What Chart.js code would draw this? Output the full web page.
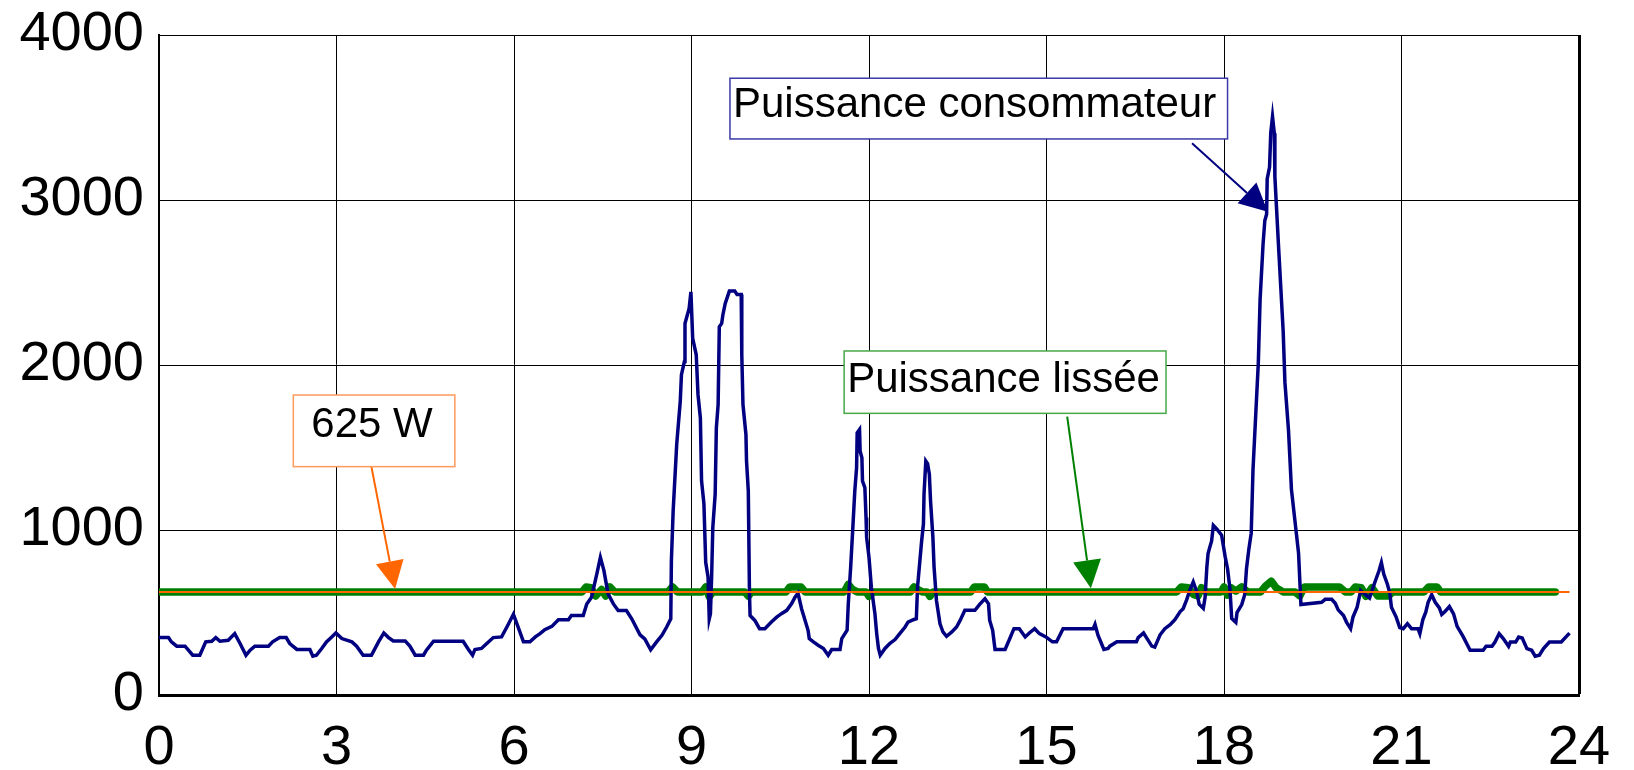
<!DOCTYPE html>
<html>
<head>
<meta charset="utf-8">
<script src="https://cdn.jsdelivr.net/npm/chart.js@4"></script>
<style>
  html, body { margin: 0; padding: 0; background: #ffffff; }
  #wrap { width: 1634px; height: 770px; position: relative; }
</style>
</head>
<body>
<div id="wrap"><canvas id="powerChart"></canvas></div>
<script>
// ===== DATA =====
// heures (axe x) et puissance consommateur (W)
const hours = [
  0.00, 0.16, 0.21, 0.30, 0.44, 0.57, 0.69, 0.79, 0.89, 0.96, 1.03, 1.17, 1.28, 1.37, 1.47, 1.54, 1.62, 1.85, 1.92, 2.04,
  2.15, 2.21, 2.33, 2.55, 2.60, 2.66, 2.75, 2.83, 2.92, 2.99, 3.09, 3.26, 3.34, 3.45, 3.59, 3.71, 3.80, 3.88, 3.96, 4.16,
  4.24, 4.33, 4.47, 4.52, 4.64, 5.14, 5.23, 5.30, 5.34, 5.45, 5.54, 5.65, 5.79, 5.88, 5.99, 6.07, 6.16, 6.27, 6.36, 6.44,
  6.52, 6.64, 6.75, 6.92, 6.97, 7.17, 7.23, 7.31, 7.40, 7.46, 7.52, 7.59, 7.68, 7.76, 7.90, 7.99, 8.13, 8.21, 8.31, 8.41,
  8.50, 8.58, 8.65, 8.66, 8.69, 8.75, 8.81, 8.83, 8.88, 8.89, 8.96, 8.99, 9.02, 9.08, 9.11, 9.15, 9.17, 9.21, 9.24, 9.28,
  9.30, 9.32, 9.34, 9.36, 9.40, 9.42, 9.45, 9.47, 9.51, 9.53, 9.57, 9.64, 9.73, 9.77, 9.84, 9.85, 9.87, 9.92, 9.93, 9.96,
  9.98, 9.99, 10.07, 10.15, 10.24, 10.35, 10.44, 10.52, 10.61, 10.69, 10.75, 10.80, 10.86, 10.92, 10.97, 10.99, 11.06, 11.14, 11.23, 11.31,
  11.37, 11.51, 11.54, 11.63, 11.65, 11.69, 11.73, 11.76, 11.79, 11.80, 11.84, 11.85, 11.88, 11.89, 11.93, 11.95, 11.96, 12.00, 12.04, 12.10,
  12.13, 12.16, 12.19, 12.27, 12.35, 12.44, 12.52, 12.61, 12.66, 12.75, 12.80, 12.82, 12.85, 12.89, 12.92, 12.93, 12.96, 12.99, 13.02, 13.04,
  13.08, 13.10, 13.14, 13.20, 13.25, 13.31, 13.40, 13.48, 13.54, 13.62, 13.79, 13.87, 13.96, 14.02, 14.04, 14.09, 14.13, 14.30, 14.38, 14.45,
  14.54, 14.64, 14.71, 14.80, 14.88, 14.99, 15.10, 15.17, 15.28, 15.79, 15.82, 15.87, 15.97, 16.04, 16.07, 16.19, 16.52, 16.55, 16.64, 16.70,
  16.78, 16.83, 16.92, 17.00, 17.09, 17.17, 17.26, 17.31, 17.37, 17.42, 17.48, 17.54, 17.58, 17.65, 17.68, 17.71, 17.73, 17.76, 17.79, 17.82,
  17.88, 17.96, 18.02, 18.06, 18.10, 18.13, 18.20, 18.22, 18.30, 18.35, 18.38, 18.42, 18.46, 18.49, 18.54, 18.58, 18.61, 18.66, 18.69, 18.72,
  18.73, 18.77, 18.79, 18.82, 18.85, 18.86, 18.92, 19.00, 19.03, 19.09, 19.14, 19.20, 19.26, 19.30, 19.65, 19.71, 19.82, 19.88, 19.93, 20.02,
  20.07, 20.14, 20.18, 20.25, 20.31, 20.35, 20.46, 20.55, 20.62, 20.66, 20.70, 20.76, 20.80, 20.83, 20.91, 20.97, 21.03, 21.10, 21.17, 21.28,
  21.31, 21.36, 21.41, 21.45, 21.51, 21.57, 21.64, 21.68, 21.74, 21.81, 21.88, 21.94, 22.04, 22.16, 22.38, 22.43, 22.53, 22.58, 22.65, 22.72,
  22.81, 22.84, 22.93, 22.98, 23.04, 23.12, 23.20, 23.26, 23.33, 23.40, 23.50, 23.70, 23.84
];
const watts = [
  348, 348, 322, 296, 296, 241, 241, 322, 326, 348, 326, 332, 372, 312, 241, 272, 296, 296, 322, 348,
  348, 312, 276, 276, 235, 241, 282, 322, 352, 376, 342, 322, 296, 241, 241, 322, 376, 348, 328, 328,
  296, 241, 241, 272, 326, 326, 276, 241, 276, 282, 312, 348, 352, 412, 489, 412, 322, 322, 352, 372,
  396, 416, 456, 456, 482, 482, 552, 593, 734, 834, 754, 613, 552, 512, 512, 462, 365, 340, 274, 322,
  362, 412, 462, 814, 1116, 1519, 1780, 1941, 2021, 2252, 2343, 2443, 2162, 2062, 1820, 1679, 1297, 1158, 804, 714,
  462, 493, 714, 1015, 1217, 1619, 1760, 2232, 2252, 2303, 2373, 2448, 2448, 2427, 2427, 2062, 1760, 1579, 1418, 1237,
  614, 482, 452, 402, 402, 442, 472, 493, 513, 553, 593, 617, 523, 452, 392, 342, 322, 302, 282, 241,
  276, 276, 342, 392, 553, 774, 1036, 1237, 1377, 1589, 1609, 1478, 1438, 1297, 1257, 1076, 955, 834, 653, 493,
  372, 282, 241, 282, 312, 336, 372, 412, 442, 456, 462, 653, 774, 935, 1036, 1217, 1418, 1402, 1338, 1177,
  955, 774, 573, 432, 382, 356, 382, 412, 452, 513, 513, 549, 583, 553, 452, 392, 276, 276, 342, 402,
  402, 352, 376, 402, 372, 352, 322, 322, 402, 402, 428, 362, 276, 282, 296, 322, 322, 348, 376, 342,
  296, 290, 365, 402, 426, 457, 506, 523, 578, 633, 685, 625, 550, 525, 590, 774, 855, 896, 932, 1028,
  1005, 969, 837, 765, 645, 464, 440, 500, 548, 608, 765, 884, 981, 1364, 1725, 2013, 2396, 2732, 2876, 2913,
  3128, 3200, 3405, 3505, 3405, 3140, 2732, 2205, 1893, 1605, 1245, 1052, 860, 548, 562, 580, 580, 556, 516, 482,
  442, 402, 472, 532, 633, 620, 588, 683, 753, 803, 733, 673, 622, 532, 472, 408, 402, 432, 402, 402,
  372, 456, 502, 562, 608, 562, 528, 488, 508, 536, 492, 416, 355, 271, 271, 295, 295, 321, 372, 342,
  295, 321, 321, 351, 345, 281, 271, 235, 241, 281, 321, 321, 375
];

// puissance lissée (W)
const smoothHours = [
  0, 7.15, 7.22, 7.30, 7.38, 7.48, 7.55, 7.62, 7.70, 8.60, 8.68, 8.76, 9.18, 9.24, 9.30, 9.36, 9.90, 9.96, 10.02, 10.60,
  10.66, 10.85, 10.92, 11.58, 11.65, 11.72, 11.80, 11.95, 12.00, 12.08, 12.70, 12.76, 12.82, 12.90, 12.98, 13.03, 13.08, 13.72, 13.78, 13.95,
  14.00, 17.20, 17.28, 17.40, 17.48, 17.56, 17.62, 17.70, 17.95, 18.00, 18.06, 18.12, 18.20, 18.30, 18.40, 18.62, 18.70, 18.80, 18.88, 19.00,
  19.20, 19.28, 19.36, 19.95, 20.05, 20.15, 20.22, 20.32, 20.40, 20.50, 20.60, 20.78, 20.85, 21.38, 21.46, 21.60, 21.66, 23.60
];
const smoothWatts = [
  625, 625, 655, 650, 600, 640, 600, 655, 625, 625, 655, 625, 625, 655, 595, 625, 625, 600, 625, 625,
  655, 655, 625, 625, 670, 640, 625, 625, 598, 625, 625, 655, 640, 625, 625, 598, 625, 625, 655, 655,
  625, 625, 655, 650, 610, 600, 650, 625, 625, 655, 605, 650, 630, 655, 625, 625, 660, 690, 650, 625,
  625, 600, 655, 655, 625, 625, 655, 650, 598, 650, 600, 600, 625, 625, 655, 655, 625, 625
];

// seuil 625 W
const thresholdHours = [0, 23.84];
const thresholdWatts = [625, 625];

// graduations
const xTicks = [0, 3, 6, 9, 12, 15, 18, 21, 24];
const yTicks = [0, 1000, 2000, 3000, 4000];

// étiquettes (position en unités du graphique)
const notes = [
  { text: '625 W', x0: 2.27, x1: 5.00, yTop: 1818, yBot: 1384, textDx: 18, textDy: 42,
    from: [3.59, 1384], to: [3.99, 642], border: '#ff9a5c', color: '#ff6600' },
  { text: 'Puissance consommateur', x0: 9.65, x1: 18.06, yTop: 3738, yBot: 3370, textDx: 3, textDy: 39,
    from: [17.46, 3344], to: [18.74, 2929], border: '#3a3aa8', color: '#000080' },
  { text: 'Puissance lissée', x0: 11.58, x1: 17.02, yTop: 2085, yBot: 1707, textDx: 3, textDy: 41,
    from: [15.35, 1687], to: [15.75, 647], border: '#46a846', color: '#008000' }
];

const toPoints = (xs, ys) => xs.map((x, i) => ({ x: x, y: ys[i] }));

// ===== ANNOTATIONS =====
function drawArrow(ctx, x1, y1, x2, y2, color) {
    const ang = Math.atan2(y2 - y1, x2 - x1);
    const len = 28, half = 14;
    const bx = x2 - len * Math.cos(ang), by = y2 - len * Math.sin(ang);
    ctx.strokeStyle = color;
    ctx.lineWidth = 2;
    ctx.beginPath();
    ctx.moveTo(x1, y1);
    ctx.lineTo(bx, by);
    ctx.stroke();
    ctx.fillStyle = color;
    ctx.beginPath();
    ctx.moveTo(x2, y2);
    ctx.lineTo(bx + half * Math.sin(ang), by - half * Math.cos(ang));
    ctx.lineTo(bx - half * Math.sin(ang), by + half * Math.cos(ang));
    ctx.closePath();
    ctx.fill();
}

const notesPlugin = {
    id: 'notes',
    afterDatasetsDraw(chart) {
        const ctx = chart.ctx;
        const xs = chart.scales.x, ys = chart.scales.y;
        ctx.save();
        notes.forEach(n => {
            const left = xs.getPixelForValue(n.x0), right = xs.getPixelForValue(n.x1);
            const top = ys.getPixelForValue(n.yTop), bottom = ys.getPixelForValue(n.yBot);
            drawArrow(ctx, xs.getPixelForValue(n.from[0]), ys.getPixelForValue(n.from[1]),
                xs.getPixelForValue(n.to[0]), ys.getPixelForValue(n.to[1]), n.color);
            ctx.fillStyle = '#ffffff';
            ctx.fillRect(left, top, right - left, bottom - top);
            ctx.strokeStyle = n.border;
            ctx.lineWidth = 1.5;
            ctx.strokeRect(left, top, right - left, bottom - top);
            ctx.fillStyle = '#000000';
            ctx.font = '42px "Liberation Sans", Arial, sans-serif';
            ctx.textAlign = 'left';
            ctx.textBaseline = 'alphabetic';
            ctx.fillText(n.text, left + n.textDx, top + n.textDy, right - left - n.textDx - 1);
        });
        ctx.restore();
    }
};

// ===== CHART =====
const tickFont = { family: '"Liberation Sans", Arial, sans-serif', size: 56 };
const noPad = s => { s.paddingTop = 0; s.paddingBottom = 0; s.paddingLeft = 0; s.paddingRight = 0; };

new Chart(document.getElementById('powerChart').getContext('2d'), {
    type: 'line',
    data: {
        datasets: [
            {
                label: '625 W',
                data: toPoints(thresholdHours, thresholdWatts),
                borderColor: '#ff6600',
                borderWidth: 2,
                pointRadius: 0,
                order: 0
            },
            {
                label: 'Puissance consommateur',
                data: toPoints(hours, watts),
                borderColor: '#000080',
                borderWidth: 3.5,
                pointRadius: 0,
                tension: 0,
                order: 1
            },
            {
                label: 'Puissance lissée',
                data: toPoints(smoothHours, smoothWatts),
                borderColor: '#008000',
                borderWidth: 7.5,
                borderCapStyle: 'round',
                borderJoinStyle: 'round',
                pointRadius: 0,
                tension: 0,
                order: 2
            }
        ]
    },
    options: {
        responsive: true,
        maintainAspectRatio: false,
        animation: false,
        layout: { padding: { left: 0, top: 35, right: 55, bottom: 0 } },
        plugins: {
            legend: { display: false },
            tooltip: { enabled: false }
        },
        scales: {
            x: {
                type: 'linear',
                min: 0,
                max: 24,
                afterBuildTicks: s => { s.ticks = xTicks.map(v => ({ value: v })); },
                afterFit: s => { s.height = 75; noPad(s); },
                ticks: { color: '#000000', font: tickFont, padding: 20, maxRotation: 0,
                         callback: v => String(v) },
                grid: {
                    color: '#000000',
                    lineWidth: c => (c.tick && c.tick.value === 24 ? 3 : 1),
                    drawTicks: false
                },
                border: { display: true, color: '#000000', width: 3 }
            },
            y: {
                min: 0,
                max: 4000,
                afterBuildTicks: s => { s.ticks = yTicks.map(v => ({ value: v })); },
                afterFit: s => { s.width = 159; noPad(s); },
                ticks: { color: '#000000', font: tickFont, padding: 15,
                         callback: v => String(v) },
                grid: { color: '#000000', lineWidth: 1, drawTicks: false },
                border: { display: true, color: '#000000', width: 2 }
            }
        }
    },
    plugins: [notesPlugin]
});
</script>
</body>
</html>
